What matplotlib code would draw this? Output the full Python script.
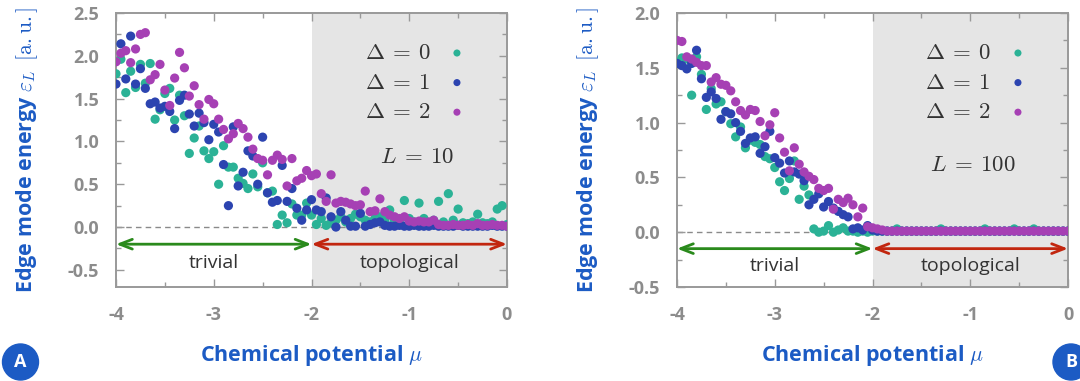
import numpy as np
import matplotlib
matplotlib.use("Agg")
import matplotlib.pyplot as plt
from matplotlib.patches import Ellipse
from matplotlib.ticker import MultipleLocator

plt.rcParams['mathtext.fontset'] = 'cm'
plt.rcParams['axes.unicode_minus'] = False
plt.rcParams['font.family'] = ['Open Sans', 'DejaVu Sans']

# chemical potential grid, -4 .. 0 in steps of 0.05
mu = np.linspace(-4, 0, 81)

# panel A, L = 10
a_d0 = [1.79, 1.96, 1.57, 1.82, 1.63, 1.90, 1.68, 1.91, 1.26, 1.37,
        1.56, 1.62, 1.25, 1.54, 1.30, 0.86, 1.04, 1.18, 0.89, 0.80,
        0.88, 0.50, 0.95, 0.70, 0.70, 0.57, 0.51, 0.45, 0.62, 0.47,
        0.75, 0.40, 0.42, 0.03, 0.14, 0.05, 0.27, 0.14, 0.14, 0.28,
        0.14, 0.03, 0.10, 0.02, 0.05, 0.08, 0.12, 0.06, 0.10, 0.15,
        0.12, 0.08, 0.06, 0.10, 0.12, 0.08, 0.20, 0.08, 0.05, 0.31,
        0.10, 0.06, 0.28, 0.10, 0.05, 0.08, 0.30, 0.06, 0.39, 0.08,
        0.21, 0.05, 0.04, 0.06, 0.15, 0.05, 0.04, 0.06, 0.21, 0.25,
        0.03]
a_d1 = [1.67, 2.14, 1.73, 2.23, 1.67, 1.85, 1.62, 1.44, 1.46, 1.39,
        1.41, 1.35, 1.15, 1.48, 1.54, 1.32, 1.18, 1.33, 1.22, 1.02,
        1.20, 1.11, 0.73, 0.25, 1.17, 0.48, 0.64, 0.89, 0.83, 0.50,
        1.05, 0.40, 0.29, 0.31, 0.72, 0.30, 0.45, 0.22, 0.08, 0.20,
        0.32, 0.20, 0.18, 0.34, 0.12, 0.00, 0.18, 0.08, 0.01, 0.01,
        0.16, 0.01, 0.03, 0.05, 0.06, 0.02, 0.01, 0.01, 0.02, 0.01,
        0.01, 0.02, 0.01, 0.01, 0.01, 0.02, 0.01, 0.01, 0.01, 0.01,
        0.02, 0.01, 0.01, 0.01, 0.01, 0.01, 0.01, 0.02, 0.01, 0.01,
        0.01]
a_d2 = [1.93, 2.03, 2.06, 1.92, 2.08, 2.25, 2.27, 1.72, 1.78, 1.90,
        1.60, 1.42, 1.74, 2.04, 1.86, 1.53, 1.65, 1.43, 1.26, 1.49,
        1.44, 1.26, 1.14, 1.03, 1.09, 1.21, 1.15, 1.05, 0.91, 0.80,
        0.78, 0.61, 0.78, 0.84, 0.79, 0.48, 0.80, 0.54, 0.57, 0.66,
        0.60, 0.62, 0.39, 0.30, 0.61, 0.28, 0.30, 0.29, 0.27, 0.25,
        0.26, 0.42, 0.18, 0.19, 0.33, 0.18, 0.14, 0.12, 0.10, 0.12,
        0.07, 0.06, 0.07, 0.06, 0.06, 0.08, 0.03, 0.02, 0.02, 0.03,
        0.02, 0.02, 0.03, 0.02, 0.04, 0.02, 0.02, 0.03, 0.02, 0.02,
        0.01]

# panel B, L = 100
b_d0 = [1.55, 1.59, 1.58, 1.25, 1.60, 1.44, 1.12, 1.31, 1.17, 1.19,
        1.10, 0.99, 0.87, 0.96, 0.77, 0.84, 0.82, 0.80, 0.69, 0.67,
        0.59, 0.46, 0.38, 0.49, 0.65, 0.30, 0.42, 0.34, 0.03, 0.00,
        0.01, 0.06, 0.00, 0.02, 0.04, 0.01, 0.01, 0.00, 0.01, 0.00,
        0.01, 0.01, 0.01, 0.01, 0.01, 0.03, 0.01, 0.01, 0.01, 0.01,
        0.01, 0.01, 0.01, 0.01, 0.03, 0.01, 0.01, 0.01, 0.01, 0.01,
        0.01, 0.01, 0.01, 0.03, 0.01, 0.01, 0.01, 0.01, 0.01, 0.03,
        0.01, 0.01, 0.01, 0.03, 0.01, 0.01, 0.01, 0.01, 0.01, 0.01,
        0.01]
b_d1 = [1.54, 1.52, 1.49, 1.54, 1.66, 1.40, 1.23, 1.28, 1.22, 1.03,
        1.10, 1.08, 1.00, 0.92, 0.81, 0.86, 0.87, 0.72, 0.78, 0.92,
        0.68, 0.63, 0.54, 0.65, 0.55, 0.53, 0.47, 0.25, 0.30, 0.35,
        0.23, 0.28, 0.22, 0.19, 0.16, 0.14, 0.03, 0.04, 0.02, 0.06,
        0.02, 0.01, 0.01, 0.01, 0.01, 0.01, 0.01, 0.01, 0.01, 0.01,
        0.01, 0.01, 0.01, 0.01, 0.01, 0.01, 0.01, 0.01, 0.01, 0.01,
        0.01, 0.01, 0.01, 0.01, 0.01, 0.01, 0.01, 0.01, 0.01, 0.01,
        0.01, 0.01, 0.01, 0.01, 0.01, 0.01, 0.01, 0.01, 0.01, 0.01,
        0.01]
b_d2 = [1.75, 1.74, 1.60, 1.58, 1.55, 1.52, 1.52, 1.37, 1.41, 1.35,
        1.34, 1.29, 1.19, 1.11, 1.07, 1.12, 1.11, 1.01, 0.88, 0.98,
        1.09, 0.86, 0.73, 0.56, 0.77, 0.62, 0.55, 0.51, 0.48, 0.40,
        0.38, 0.40, 0.21, 0.30, 0.27, 0.31, 0.25, 0.14, 0.22, 0.05,
        0.04, 0.03, 0.02, 0.01, 0.01, 0.01, 0.01, 0.01, 0.01, 0.01,
        0.01, 0.01, 0.01, 0.01, 0.01, 0.01, 0.01, 0.01, 0.01, 0.01,
        0.01, 0.01, 0.01, 0.01, 0.01, 0.01, 0.01, 0.01, 0.01, 0.01,
        0.01, 0.01, 0.01, 0.01, 0.01, 0.01, 0.01, 0.01, 0.01, 0.01,
        0.01]

deltas = ['0', '1', '2']
colors = ['#2bb296', '#2c44b0', '#a640b4']
blue_txt = '#1c5bc4'
grey = '#999999'

fig = plt.figure(figsize=(10.8, 3.81), dpi=100)
W, H = 1080, 381


def panel(left, series, ylim, L, arrow_y, text_y, leg_x, leg_y, L_x, L_y):
    ax = fig.add_axes([left / W, 1 - 287 / H, 391 / W, 274 / H])
    ax.axvspan(-2, 0, color='#e5e5e5', lw=0, zorder=0)
    ax.axhline(0, color='#8a8a8a', lw=1, ls=(0, (4, 3)), zorder=1)
    for ys, c in zip(series, colors):
        ax.scatter(mu, ys, s=44, color=c, edgecolors='none', zorder=3)
    ax.set_xlim(-4, 0)
    ax.set_ylim(*ylim)
    ax.xaxis.set_major_locator(MultipleLocator(1))
    ax.xaxis.set_minor_locator(MultipleLocator(0.5))
    ax.yaxis.set_major_locator(MultipleLocator(0.5))
    ax.yaxis.set_minor_locator(MultipleLocator(0.25))
    ax.yaxis.set_major_formatter(matplotlib.ticker.FormatStrFormatter('%.1f'))
    ax.xaxis.set_major_formatter(matplotlib.ticker.FormatStrFormatter('%d'))
    ax.tick_params(which='both', direction='in', top=True, right=True,
                   color=grey, width=1)
    ax.tick_params(which='major', length=6)
    ax.tick_params(which='minor', length=3.5)
    ax.tick_params(axis='x', which='major', pad=14)
    ax.tick_params(axis='y', which='major', pad=12)
    for lab in ax.get_xticklabels() + ax.get_yticklabels():
        lab.set_fontweight('bold')
        lab.set_color('#8c8c8c')
        lab.set_fontsize(13)
    for sp in ax.spines.values():
        sp.set_color(grey)
        sp.set_linewidth(1.4)

    # trivial / topological arrows
    ax.annotate('', xy=(-4, arrow_y), xytext=(-2, arrow_y),
                arrowprops=dict(arrowstyle='<->,head_length=0.9,head_width=0.35',
                                color='#2a8a1c', lw=2, shrinkA=0, shrinkB=0),
                zorder=4)
    ax.annotate('', xy=(-2, arrow_y), xytext=(0, arrow_y),
                arrowprops=dict(arrowstyle='<->,head_length=0.9,head_width=0.35',
                                color='#c2260f', lw=2, shrinkA=0, shrinkB=0),
                zorder=4)
    ax.text(-3, text_y, 'trivial', ha='center', va='center', fontsize=14,
            color='#333333')
    ax.text(-1, text_y, 'topological', ha='center', va='center', fontsize=14,
            color='#333333')

    # legend
    for i, (d, c) in enumerate(zip(deltas, colors)):
        yy = leg_y - i * 0.108
        ax.text(leg_x, yy, r'$\Delta\:=\:%s$' % d, transform=ax.transAxes,
                ha='left', va='center', fontsize=16.5, color='#333333')
        ax.scatter([0.872], [yy], s=26, color=c, edgecolors='none',
                   transform=ax.transAxes, zorder=5, clip_on=False)
    ax.text(L_x, L_y, r'$L\:=\:%d$' % L, transform=ax.transAxes,
            ha='center', va='center', fontsize=16.5, color='#333333')

    ax.set_xlabel(r'Chemical potential $\mu$', fontsize=15.5, fontweight='bold',
                  color=blue_txt, labelpad=13)
    ax.set_ylabel(r'Edge mode energy $\varepsilon_L\ \, [\mathrm{a.u.}]$',
                  fontsize=15.5, fontweight='bold', color=blue_txt, labelpad=20)
    return ax


axA = panel(116, [a_d0, a_d1, a_d2], (-0.7, 2.5), 10, -0.2, -0.42,
            0.637, 0.854, 0.77, 0.474)
axB = panel(677, [b_d0, b_d1, b_d2], (-0.5, 2.0), 100, -0.15, -0.31,
            0.634, 0.854, 0.757, 0.445)

# panel badges
for cx, letter in [(20.5, 'A'), (1071, 'B')]:
    fig.patches.append(Ellipse((cx / W, 1 - 362 / H), 36 / W, 36 / H,
                               transform=fig.transFigure, color='#1c5bc4',
                               zorder=10))
    fig.text(cx / W, 1 - 362 / H, letter, ha='center', va='center',
             color='white', fontsize=13, fontweight='bold', zorder=11)

fig.savefig('out.png', dpi=100)
